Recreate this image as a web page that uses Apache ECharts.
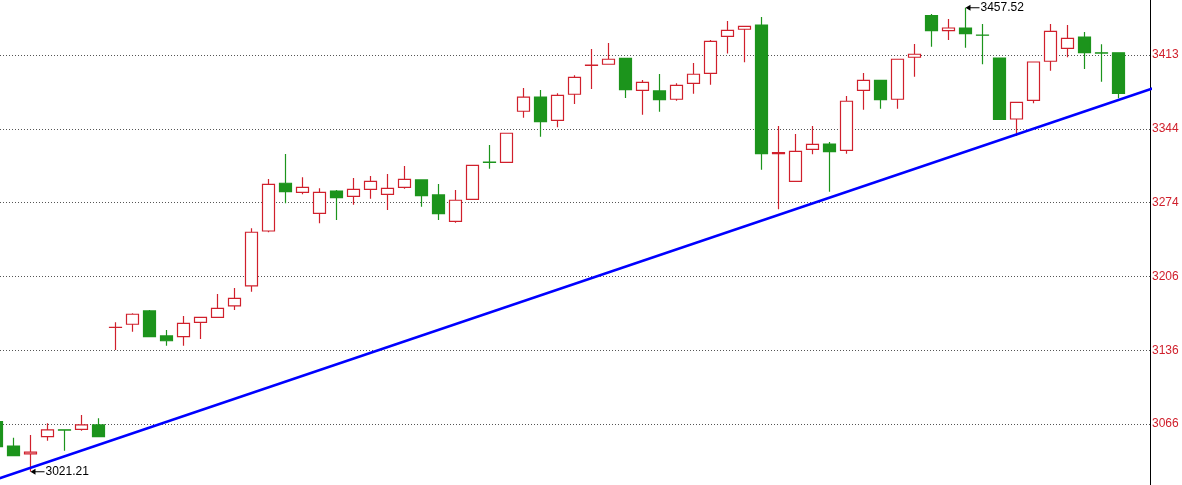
<!DOCTYPE html>
<html>
<head>
<meta charset="utf-8">
<script src="https://cdn.jsdelivr.net/npm/echarts@6/dist/echarts.min.js"></script>
<style>
html,body{margin:0;padding:0;background:#fff;}
#chart{width:1182px;height:485px;}
</style>
</head>
<body>
<div id="chart"></div>
<script>
// Candle data (index position along the x axis is the array index)
const opens  = [3068.2,3045.3,3038.0,3054.1,3060.5,3061.0,3065.1,3156.8,3159.8,3172.3,3148.8,3148.1,3161.6,3166.3,3177.0,3195.8,3247.5,3292.4,3283.9,3264.1,3285.1,3280.1,3286.7,3282.0,3288.6,3295.5,3281.4,3256.6,3277.3,3312.2,3312.1,3360.1,3373.5,3351.6,3376.1,3403.2,3404.3,3409.9,3379.8,3379.2,3371.4,3386.4,3395.8,3430.6,3437.2,3441.2,3320.2,3294.2,3324.3,3329.3,3323.4,3379.8,3389.2,3371.4,3410.9,3450.0,3435.9,3438.4,3431.8,3410.2,3352.8,3370.4,3407.1,3419.3,3429.9,3415.0,3415.1];
const closes = [3044.7,3036.2,3039.5,3060.4,3060.3,3065.1,3054.1,3157.0,3169.2,3148.1,3144.3,3160.7,3166.3,3174.8,3184.2,3246.3,3291.4,3284.5,3288.6,3283.9,3278.8,3286.7,3294.2,3287.6,3296.1,3280.7,3263.8,3276.4,3309.3,3312.0,3339.4,3373.3,3350.3,3375.1,3392.0,3403.4,3409.0,3380.4,3387.3,3371.0,3384.5,3394.9,3425.9,3436.2,3440.0,3320.2,3321.3,3322.4,3329.0,3322.1,3369.5,3389.2,3371.0,3409.0,3413.7,3435.9,3438.4,3433.1,3431.6,3352.5,3368.5,3406.4,3435.3,3428.7,3415.2,3414.8,3377.0];
const lows   = [3042.0,3036.0,3021.21,3050.3,3040.9,3059.7,3054.0,3135.6,3152.8,3148.0,3139.6,3139.6,3145.9,3166.0,3173.2,3190.4,3246.3,3273.5,3282.0,3254.7,3257.8,3272.2,3277.9,3267.2,3287.3,3270.4,3257.8,3255.3,3277.0,3306.1,3312.0,3354.0,3336.2,3345.0,3366.9,3381.0,3404.0,3372.6,3356.9,3359.7,3370.0,3376.6,3385.1,3414.4,3406.1,3305.1,3267.9,3294.0,3319.6,3284.5,3320.2,3361.6,3362.5,3362.5,3392.6,3420.8,3427.1,3419.9,3404.3,3352.3,3336.8,3367.6,3398.2,3410.9,3399.8,3387.9,3372.3];
const highs  = [3070.0,3053.1,3055.7,3066.7,3060.6,3074.5,3071.4,3161.6,3170.2,3173.2,3154.4,3167.6,3166.5,3188.3,3193.9,3250.0,3296.4,3319.9,3298.0,3287.6,3286.0,3297.3,3299.2,3301.1,3308.6,3295.6,3291.7,3286.0,3309.5,3328.4,3339.6,3382.0,3380.1,3377.0,3393.9,3418.7,3424.3,3410.0,3389.5,3395.1,3386.4,3405.5,3427.1,3445.0,3440.2,3448.7,3346.2,3338.7,3346.2,3331.2,3374.5,3396.1,3389.4,3409.2,3423.4,3451.6,3446.9,3457.52,3442.2,3410.4,3368.7,3406.6,3442.2,3441.2,3434.6,3423.1,3415.3];

// Y axis ticks and their labels
const tickValues = [3066, 3135.4, 3204.8, 3274.2, 3343.6, 3413];
const tickLabels = ['3066', '3136', '3206', '3274', '3344', '3413'];

// Trend line (two anchor points: [candle index, value])
const trendLine = [[0, 3014.1], [68, 3381.5]];

// Annotated extremes: [candle index, value]
const maxMark = [57, 3457.52];
const minMark = [2, 3021.21];

const RED = '#d0202c';
const GREEN = '#1c941c';

const candleData = opens.map((o, i) => [i, o, closes[i], lows[i], highs[i]]);

const arrowPath = 'path://M0,3 L5,0 L5,2.5 L14,2.5 L14,3.5 L5,3.5 L5,6 Z';

const chart = echarts.init(document.getElementById('chart'), null, {renderer: 'canvas'});
chart.setOption({
  animation: false,
  backgroundColor: '#ffffff',
  grid: {left: 0, right: 32, top: 0, bottom: 0, containLabel: false},
  xAxis: {
    type: 'value',
    min: 0.206,
    max: 67.853,
    show: false,
    splitLine: {show: false}
  },
  yAxis: {
    type: 'value',
    position: 'right',
    min: 3008.64,
    max: 3464.72,
    axisLine: {show: true, onZero: false, lineStyle: {color: '#000000', width: 1}},
    axisTick: {show: false, customValues: tickValues},
    axisLabel: {
      show: true,
      customValues: tickValues,
      margin: 2,
      color: RED,
      fontSize: 12,
      fontFamily: 'Liberation Sans, Arial, sans-serif',
      formatter: function (val) {
        let k = 0, best = Infinity;
        tickValues.forEach((t, j) => { const d = Math.abs(t - val); if (d < best) { best = d; k = j; } });
        return tickLabels[k];
      }
    },
    splitLine: {show: true, lineStyle: {color: '#555555', width: 1, type: [1, 2]}}
  },
  series: [
    {
      type: 'candlestick',
      data: candleData,
      encode: {x: 0, y: [1, 2, 3, 4]},
      barWidth: 12,
      clip: false,
      itemStyle: {
        color: '#ffffff',
        color0: GREEN,
        borderColor: RED,
        borderColor0: GREEN,
        borderWidth: 1.2
      },
      markPoint: {
        symbol: arrowPath,
        symbolSize: [14, 6],
        symbolOffset: [7, 0],
        itemStyle: {color: '#000000'},
        label: {
          show: true,
          position: 'right',
          distance: 1,
          color: '#000000',
          fontSize: 12,
          fontFamily: 'Liberation Sans, Arial, sans-serif',
          formatter: function (p) { return p.data.coord[1].toFixed(2); }
        },
        data: [
          {coord: maxMark},
          {coord: minMark}
        ]
      },
      z: 2
    },
    {
      type: 'line',
      data: trendLine,
      symbol: 'none',
      clip: true,
      lineStyle: {color: '#0000ff', width: 2.6},
      z: 3
    }
  ]
});
</script>
</body>
</html>
